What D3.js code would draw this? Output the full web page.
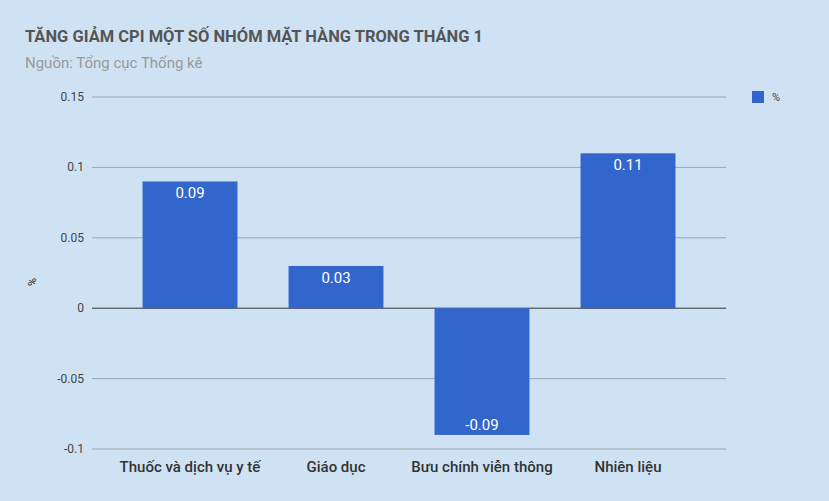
<!DOCTYPE html><html><head><meta charset="utf-8">
<script src="https://cdn.jsdelivr.net/npm/d3@7"></script>
<style>body{margin:0;background:#cfe2f3}svg{font-family:Roboto,sans-serif}</style></head><body>
<script>
const categories=["Thuốc và dịch vụ y tế","Giáo dục","Bưu chính viễn thông","Nhiên liệu"];
const values=[0.09,0.03,-0.09,0.11];
const yTicks=[-0.1,-0.05,0,0.05,0.1,0.15];
const W=829,H=501;
const svg=d3.select("body").append("svg").attr("width",W).attr("height",H);
svg.append("rect").attr("width",W).attr("height",H).attr("fill","#cfe2f3");
const y=d3.scaleLinear().domain([-0.1,0.15]).range([449,97]);
const x=d3.scaleBand().domain(categories).range([117,701]).paddingInner(0.35).paddingOuter(0.175);
svg.selectAll(".g").data(yTicks).join("line").attr("x1",92).attr("x2",726)
 .attr("y1",d=>y(d)).attr("y2",d=>y(d)).attr("stroke",d=>d===0?"#333":"#9aa6b2").attr("stroke-width",1);
svg.selectAll(".yt").data(yTicks).join("text").attr("x",84).attr("y",d=>y(d)+4).attr("text-anchor","end")
 .attr("font-size",12).attr("fill","#444").text(d=>String(d));
svg.selectAll(".b").data(values).join("rect").attr("x",(d,i)=>x(categories[i])).attr("width",x.bandwidth())
 .attr("y",d=>y(Math.max(0,d))).attr("height",d=>Math.abs(y(d)-y(0))).attr("fill","#3366cc");
svg.selectAll(".bl").data(values).join("text").attr("x",(d,i)=>x(categories[i])+x.bandwidth()/2)
 .attr("y",d=>d>=0?y(d)+17:y(d)-5).attr("text-anchor","middle").attr("font-size",15).attr("fill","#fff").text(d=>d.toFixed(2));
svg.selectAll(".xl").data(categories).join("text").attr("x",d=>x(d)+x.bandwidth()/2).attr("y",472)
 .attr("text-anchor","middle").attr("font-size",15).attr("font-weight",500).attr("fill","#333").text(d=>d);
svg.append("text").attr("x",25).attr("y",42).attr("font-size",16.5).attr("font-weight",700).attr("fill","#555")
 .text("TĂNG GIẢM CPI MỘT SỐ NHÓM MẶT HÀNG TRONG THÁNG 1");
svg.append("text").attr("x",25).attr("y",68).attr("font-size",15).attr("fill","#999").text("Nguồn: Tổng cục Thống kê");
svg.append("rect").attr("x",752).attr("y",91).attr("width",12).attr("height",12).attr("fill","#3366cc");
svg.append("text").attr("x",772).attr("y",101).attr("font-size",11).attr("fill","#444").text("%");
svg.append("text").attr("transform","translate(36,282) rotate(-90)").attr("text-anchor","middle").attr("font-size",11).attr("fill","#222").text("%");
</script></body></html>
